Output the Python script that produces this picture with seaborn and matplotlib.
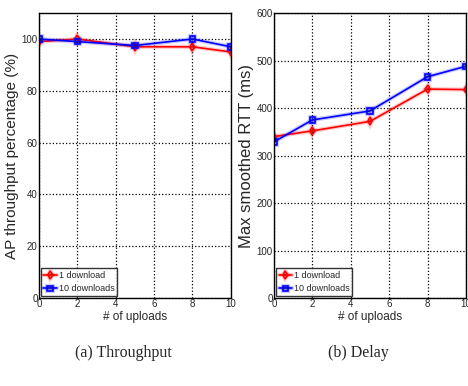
import numpy as np
import pandas as pd
import matplotlib
matplotlib.use("Agg")
import matplotlib.pyplot as plt
import matplotlib.patheffects as pe
import seaborn as sns

# data
uploads = [0, 2, 5, 8, 10]
tput_1dl = [99, 100, 97, 97, 95]
tput_10dl = [100, 99, 97.5, 100, 97]
rtt_1dl = [340, 352, 372, 440, 439]
rtt_10dl = [329, 375, 394, 466, 488]
series_names = ["1 download", "10 downloads"]

sns.set_style("white")
plt.rcParams['font.family'] = ['Liberation Sans', 'DejaVu Sans']


def make_df(a, b):
    return pd.DataFrame({
        "uploads": uploads * 2,
        "value": a + b,
        "series": [series_names[0]] * len(uploads) + [series_names[1]] * len(uploads),
    })


fig = plt.figure(figsize=(4.68, 3.86), dpi=100)
ax1 = fig.add_axes([0.0833, 0.228, 0.410, 0.738])
ax2 = fig.add_axes([0.5855, 0.228, 0.410, 0.738])

palette = {series_names[0]: "#ff0000", series_names[1]: "#0000ff"}
markers = {series_names[0]: "d", series_names[1]: "s"}
glow = lambda c: [pe.Stroke(linewidth=3, foreground=c, alpha=0.2), pe.Normal()]

for ax, df, ylab, ylsize, ylim, yticks in [
    (ax1, make_df(tput_1dl, tput_10dl), "AP throughput percentage (%)", 11, (0, 110), range(0, 101, 20)),
    (ax2, make_df(rtt_1dl, rtt_10dl), "Max smoothed RTT (ms)", 12, (0, 600), range(0, 601, 100)),
]:
    sns.lineplot(data=df, x="uploads", y="value", hue="series", style="series",
                 palette=palette, markers=markers, dashes=False, markersize=4,
                 linewidth=1.2, ax=ax)
    for line in ax.lines:
        c = line.get_color()
        line.set_markerfacecolor("none")
        line.set_markeredgecolor(c)
        line.set_markeredgewidth(1.2)
        line.set_path_effects(glow(c))
    ax.set_xlim(0, 10)
    ax.set_ylim(*ylim)
    ax.set_xticks(range(0, 11, 2))
    ax.set_yticks(list(yticks))
    ax.grid(True, color="black", linestyle=":", linewidth=0.9)
    ax.tick_params(direction="in", length=3, labelsize=7, pad=1)
    ax.set_xlabel("# of uploads", fontsize=8.5, labelpad=1)
    ax.set_ylabel(ylab, fontsize=ylsize, labelpad=2)
    for s in ax.spines.values():
        s.set_color("black")
        s.set_linewidth(1)
    leg = ax.legend(loc="lower left", fontsize=6.5, frameon=True, fancybox=False,
                    borderaxespad=0.2, handlelength=1.5, handletextpad=0.2,
                    borderpad=0.3, labelspacing=0.5)
    leg.get_frame().set_edgecolor("black")
    leg.get_frame().set_linewidth(1)
    for h in leg.get_lines():
        h.set_markerfacecolor("none")
        h.set_markeredgecolor(h.get_color())

fig.text(0.263, 0.075, "(a) Throughput", ha="center", fontsize=11.5,
         family=["Liberation Serif", "DejaVu Serif"])
fig.text(0.765, 0.075, "(b) Delay", ha="center", fontsize=11.5,
         family=["Liberation Serif", "DejaVu Serif"])

fig.savefig("out.png", dpi=100)
